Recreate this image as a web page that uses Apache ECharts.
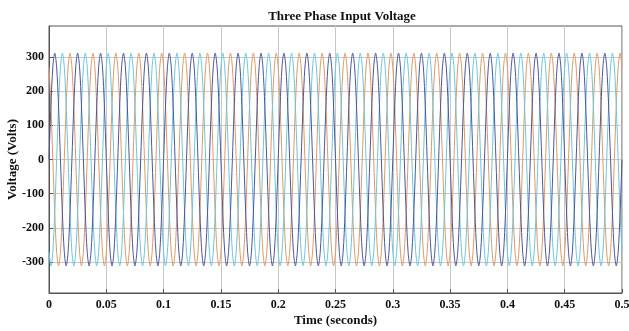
<!DOCTYPE html>
<html>
<head>
<meta charset="utf-8">
<script src="https://cdn.jsdelivr.net/npm/echarts@6/dist/echarts.min.js"></script>
<style>html,body{margin:0;padding:0;background:#fff}#c{width:629px;height:331px}</style>
</head>
<body>
<div id="c"></div>
<script>
// 50 Hz three-phase supply, peak ~311 V, 25 cycles over 0..0.5 s
var cycleCount = 25;
var periodSeconds = 0.02;
var phaseASamples = [0, 156, 270, 311, 270, 156, 0, -156, -270, -311, -270, -156];
var phaseBSamples = [-270, -311, -270, -156, 0, 156, 270, 311, 270, 156, 0, -156];
var phaseCSamples = [270, 156, 0, -156, -270, -311, -270, -156, 0, 156, 270, 311];
var seriesNames = ['Va', 'Vb', 'Vc'];
var xTicks = [0, 0.05, 0.1, 0.15, 0.2, 0.25, 0.3, 0.35, 0.4, 0.45, 0.5];
var yTicks = [-300, -200, -100, 0, 100, 200, 300];

function tile(samples) {
  var n = samples.length, out = [];
  for (var c = 0; c < cycleCount; c++) {
    for (var k = 0; k < n; k++) {
      out.push([+(c * periodSeconds + k * periodSeconds / n).toFixed(6), samples[k]]);
    }
  }
  out.push([cycleCount * periodSeconds, samples[0]]);
  return out;
}

var font = 'Liberation Serif';
var chart = echarts.init(document.getElementById('c'), null, {renderer: 'canvas'});
var colors = ['#4b5798', '#6cc6de', '#de9a68'];
var sets = [phaseASamples, phaseBSamples, phaseCSamples];
chart.setOption({
  animation: false,
  backgroundColor: '#fff',
  title: {
    text: 'Three Phase Input Voltage',
    left: 337, top: 5, textAlign: 'center',
    textStyle: {fontFamily: font, fontWeight: 'bold', fontSize: 13, color: '#111'}
  },
  grid: {left: 49, right: 7, top: 26, bottom: 38, containLabel: false, outerBoundsMode: 'none',
    show: true, borderColor: '#555', borderWidth: 1, backgroundColor: '#fff'},
  xAxis: {
    type: 'value', min: 0, max: 0.5, interval: 0.05,
    name: 'Time (seconds)', nameLocation: 'middle', nameGap: 21, nameMoveOverlap: false,
    nameTextStyle: {fontFamily: font, fontWeight: 'bold', fontSize: 13, color: '#111'},
    axisLine: {show: true, onZero: false, lineStyle: {color: '#555'}},
    axisTick: {show: true, inside: true, length: 4, lineStyle: {color: '#555'}},
    axisLabel: {fontFamily: font, fontWeight: 'bold', fontSize: 12, color: '#111', margin: 6,
      hideOverlap: false, formatter: function (v) { return String(+v.toFixed(2)); }},
    splitLine: {show: true, lineStyle: {color: '#c8c8c8', width: 1}}
  },
  yAxis: {
    type: 'value', min: -390, max: 390,
    name: 'Voltage (Volts)', nameLocation: 'middle', nameGap: 30, nameMoveOverlap: false,
    nameTextStyle: {fontFamily: font, fontWeight: 'bold', fontSize: 13, color: '#111'},
    axisLine: {show: true, onZero: false, lineStyle: {color: '#555'}},
    axisTick: {show: true, inside: true, length: 4, lineStyle: {color: '#555'}, customValues: yTicks},
    axisLabel: {fontFamily: font, fontWeight: 'bold', fontSize: 12, color: '#111', margin: 5, customValues: yTicks},
    splitLine: {show: true, lineStyle: {color: '#c8c8c8', width: 1}}
  },
  series: sets.map(function (s, i) {
    return {
      name: seriesNames[i], type: 'line', data: tile(s), showSymbol: false, symbol: 'none',
      smooth: 0.3, lineStyle: {color: colors[i], width: 1}, z: 3 - i
    };
  })
});
</script>
</body>
</html>
